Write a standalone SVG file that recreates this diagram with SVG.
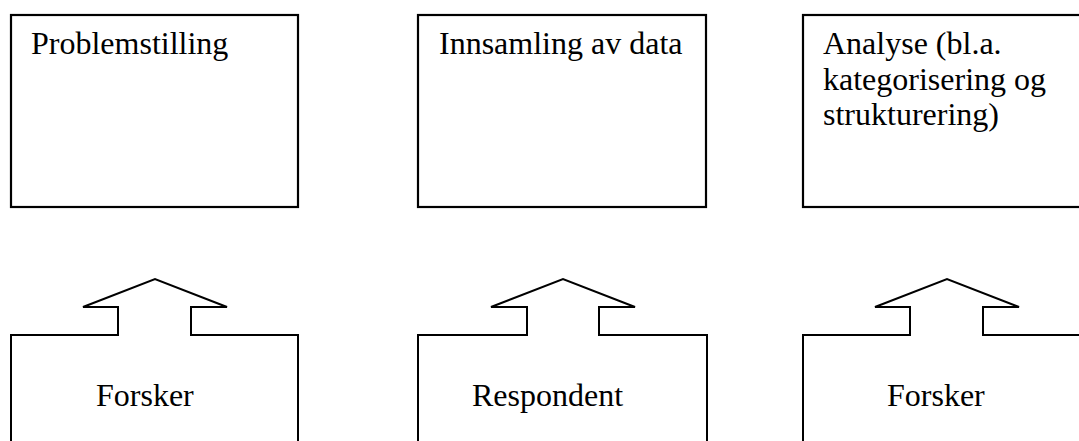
<svg xmlns="http://www.w3.org/2000/svg" width="1079" height="441" viewBox="0 0 1079 441">
<style>
.box{fill:#fff;stroke:#000;stroke-width:2.2}
.shape{fill:none;stroke:#000;stroke-width:2;stroke-linejoin:miter}
.t{font-family:"Liberation Serif","Times New Roman",serif;font-size:32px;fill:#000}
</style>
<rect width="1079" height="441" fill="#fff"/>
<g id="box-problemstilling">
<rect class="box" x="11" y="15" width="287" height="192"/>
<text class="t" x="31" y="54">Problemstilling</text>
</g>
<g id="box-innsamling">
<rect class="box" x="418" y="15" width="288" height="192"/>
<text class="t" x="439" y="54">Innsamling av data</text>
</g>
<g id="box-analyse">
<rect class="box" x="803" y="15" width="300" height="192"/>
<text class="t" x="823" y="54">Analyse (bl.a.</text>
<text class="t" x="823" y="90">kategorisering og</text>
<text class="t" x="823" y="125">strukturering)</text>
</g>
<g id="connectors">
<path class="shape" d="M11,441 V335 H118 V307 H83 L155,279 L227,307 H191 V335 H298 V441"/>
<path class="shape" d="M418,441 V335 H527 V307 H491 L563,279 L635,307 H599 V335 H707 V441"/>
<path class="shape" d="M803,441 V335 H910 V307 H875 L947,279 L1019,307 H983 V335 H1090"/>
</g>
<g id="actor-forsker-1">
<text class="t" x="96" y="406">Forsker</text>
</g>
<g id="actor-respondent">
<text class="t" x="472" y="406">Respondent</text>
</g>
<g id="actor-forsker-2">
<text class="t" x="887" y="406">Forsker</text>
</g>
</svg>
